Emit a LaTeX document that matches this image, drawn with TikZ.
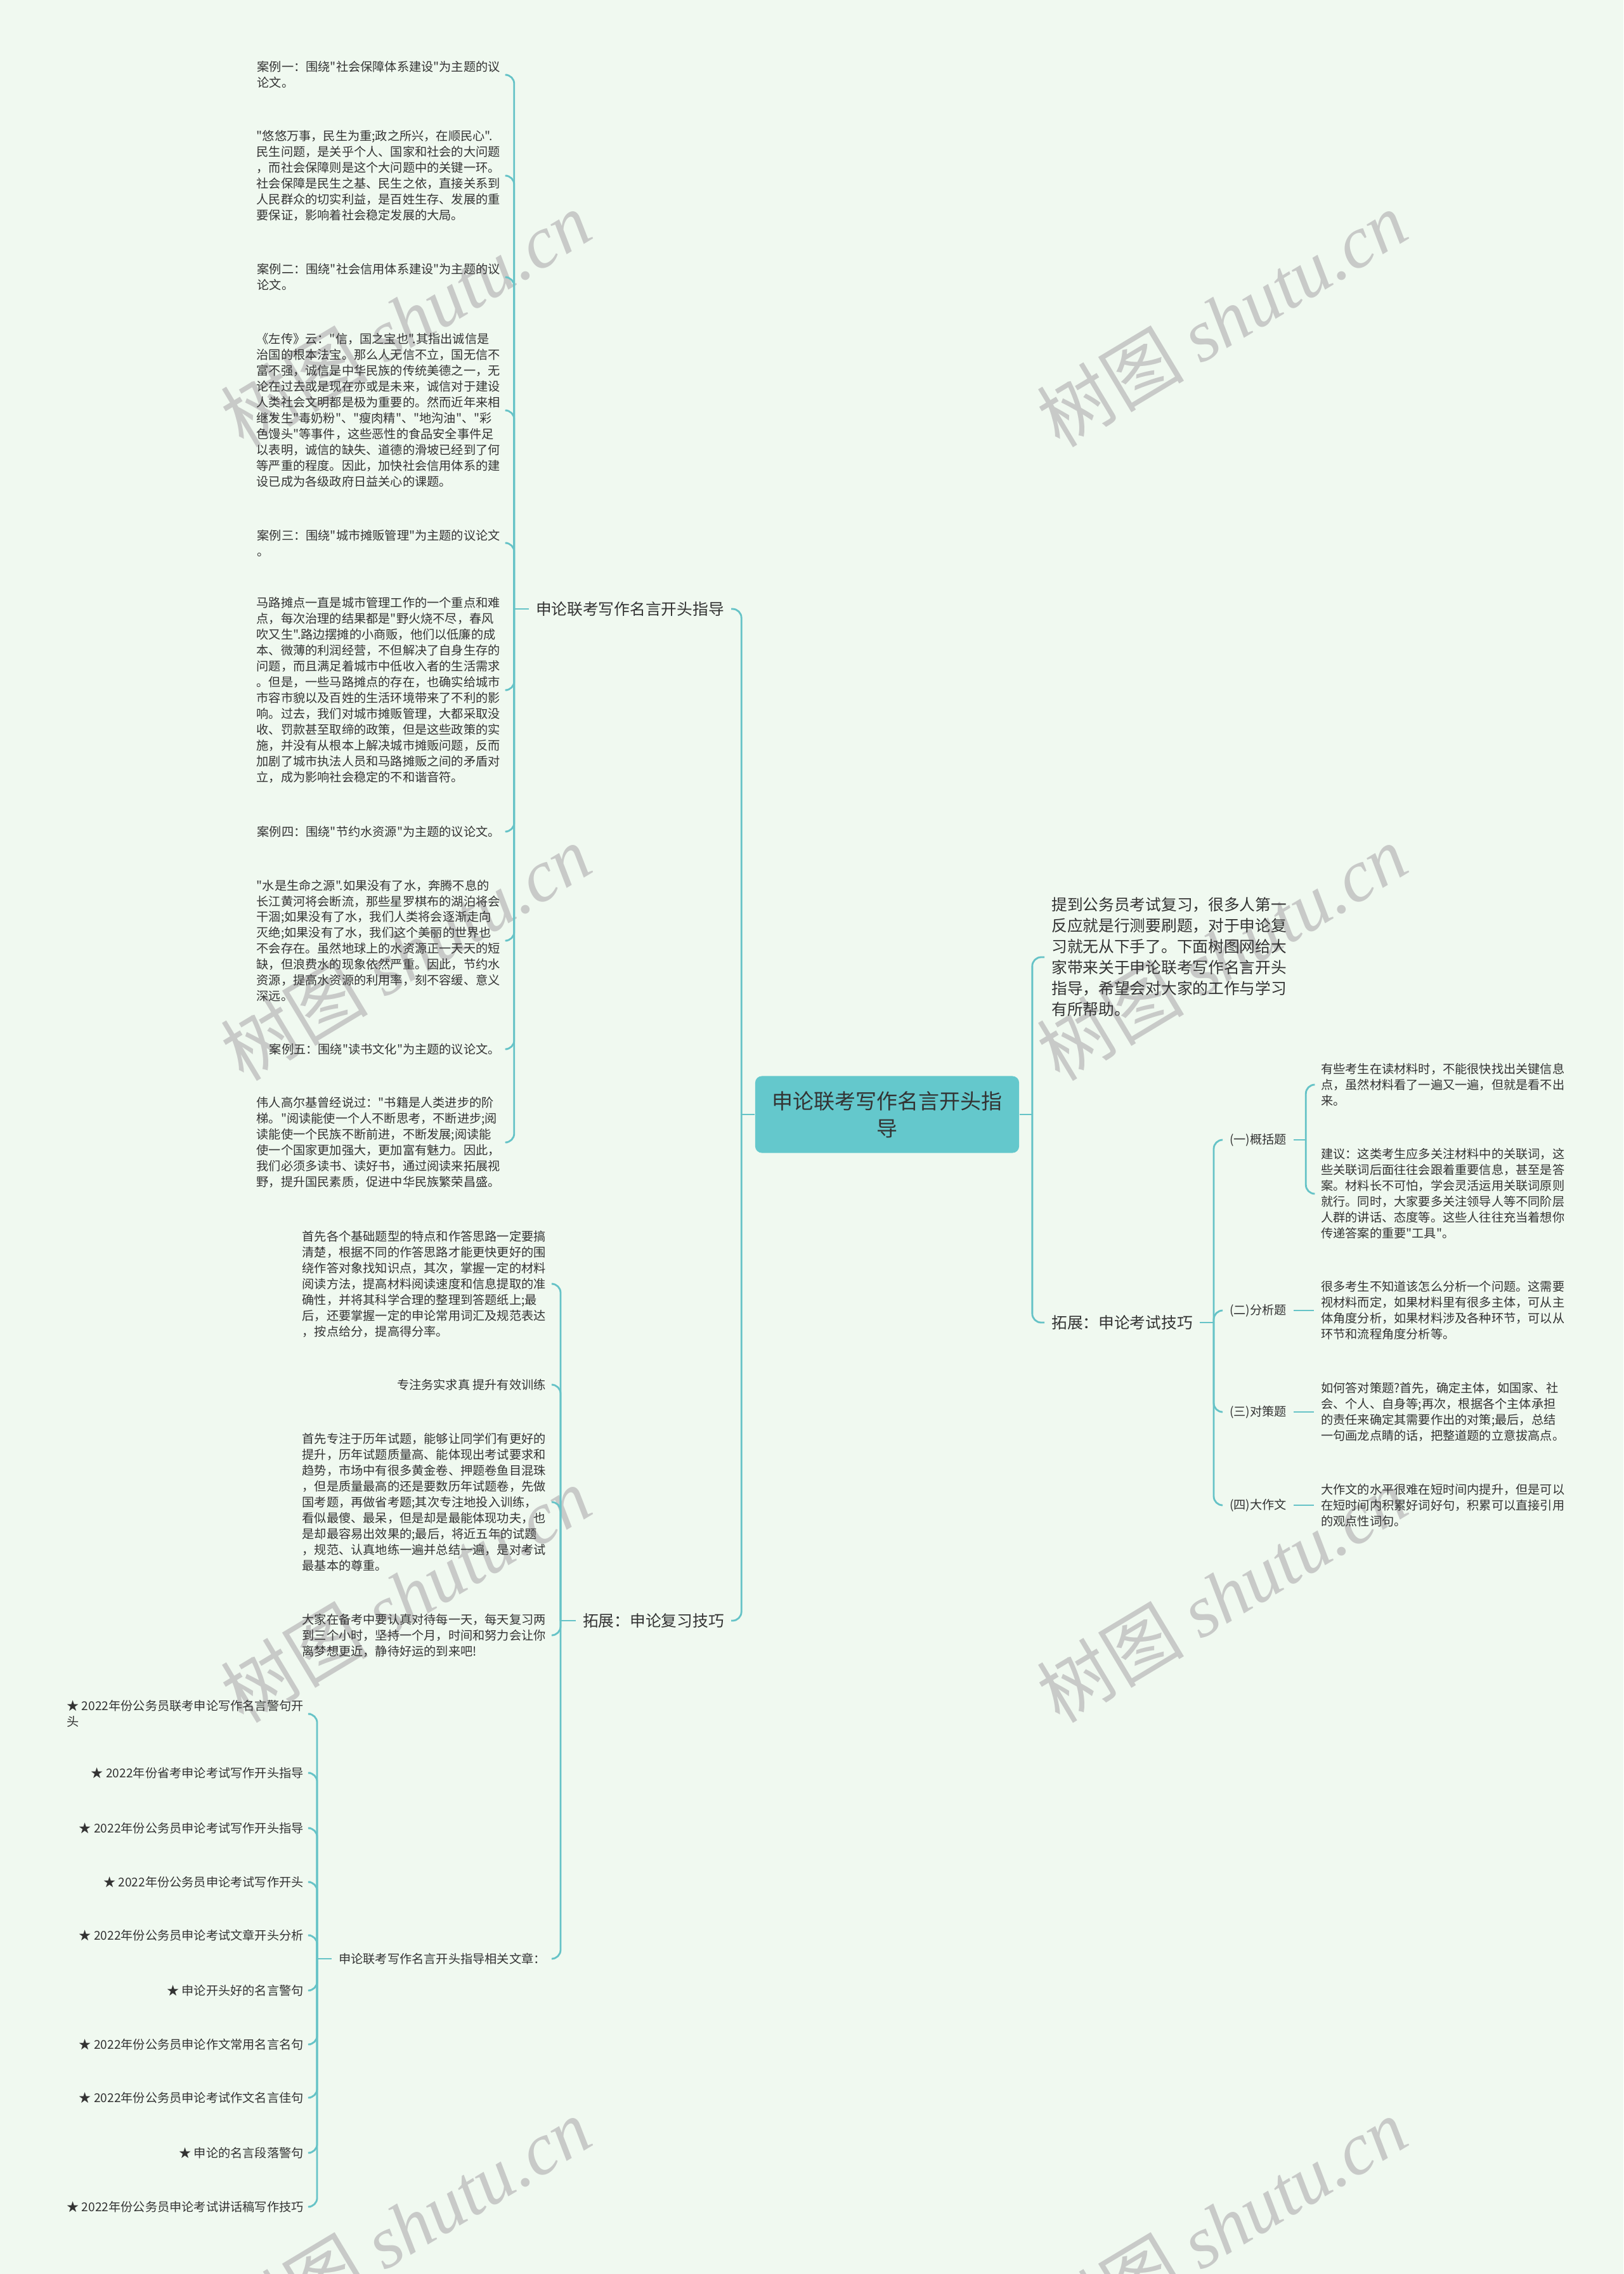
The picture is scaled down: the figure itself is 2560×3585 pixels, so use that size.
\documentclass[tikz,border=0pt]{standalone}
\usepackage{fontspec}
\setmainfont{Noto Sans CJK SC}[Ligatures=TeXOff]
\newfontfamily\wmserif{Liberation Serif}
\usetikzlibrary{positioning}
\definecolor{bgmint}{RGB}{240,249,240}
\definecolor{linkteal}{RGB}{102,195,199}
\definecolor{rootteal}{RGB}{100,200,204}
\definecolor{txtgray}{RGB}{51,51,51}
\definecolor{wmgray}{RGB}{200,202,200}

\begin{document}
\begin{tikzpicture}[x=0.01cm, y=-0.01cm]
  \tikzset{
    link/.style={draw=linkteal, line width=0.8pt, rounded corners=4pt},
    root/.style={fill=rootteal, rounded corners=3pt, text=txtgray, align=center, minimum width=4.16cm, minimum height=1.21cm, inner sep=0pt, font=\fontsize{9.39pt}{12.2pt}\selectfont},
    topic/.style={text=txtgray, align=left, inner xsep=3pt, inner ysep=0pt, font=\fontsize{7.03pt}{9.39pt}\selectfont},
    leaf/.style={text=txtgray, align=left, inner xsep=3pt, inner ysep=0pt, font=\fontsize{5.46pt}{7.1pt}\selectfont},
    wmark/.style={text=wmgray, rotate=31, font=\fontsize{33pt}{33pt}\selectfont},
  }
  \fill[bgmint] (0,0) rectangle (2560,3585);
  \useasboundingbox (0,0) rectangle (2560,3585);
  %% watermarks
  \foreach \wx/\wy in {640/503,1927/503,640/1502,1927/1502,640/2514,1927/2514,640/3509,1927/3509}
    \node[wmark] at (\wx,\wy) {树图 {\wmserif\itshape shutu.cn}};

  %% root and first level
  \node[root] (root) at (1399,1757) {申论联考写作名言开头指\\导};
  \node[topic, anchor=east] (guide) at (1153,960) {申论联考写作名言开头指导};
  \node[topic, anchor=east] (review) at (1153,2555) {拓展：申论复习技巧};
  \node[topic, anchor=west] (intro) at (1647,1509) {提到公务员考试复习，很多人第一\\反应就是行测要刷题，对于申论复\\习就无从下手了。下面树图网给大\\家带来关于申论联考写作名言开头\\指导，希望会对大家的工作与学习\\有所帮助。};
  \node[topic, anchor=west] (skill) at (1647,2085) {拓展：申论考试技巧};

  %% cases under guide
  \node[leaf, anchor=east] (caseA) at (800,118) {案例一：围绕"社会保障体系建设"为主题的议\\论文。};
  \node[leaf, anchor=east] (textA) at (800,277) {"悠悠万事，民生为重;政之所兴，在顺民心".\\民生问题，是关乎个人、国家和社会的大问题\\，而社会保障则是这个大问题中的关键一环。\\社会保障是民生之基、民生之依，直接关系到\\人民群众的切实利益，是百姓生存、发展的重\\要保证，影响着社会稳定发展的大局。};
  \node[leaf, anchor=east] (caseB) at (800,437) {案例二：围绕"社会信用体系建设"为主题的议\\论文。};
  \node[leaf, anchor=east] (textB) at (800,647) {《左传》云："信，国之宝也".其指出诚信是\\治国的根本法宝。那么人无信不立，国无信不\\富不强，诚信是中华民族的传统美德之一，无\\论在过去或是现在亦或是未来，诚信对于建设\\人类社会文明都是极为重要的。然而近年来相\\继发生"毒奶粉"、"瘦肉精"、"地沟油"、"彩\\色馒头"等事件，这些恶性的食品安全事件足\\以表明，诚信的缺失、道德的滑坡已经到了何\\等严重的程度。因此，加快社会信用体系的建\\设已成为各级政府日益关心的课题。};
  \node[leaf, anchor=east] (caseC) at (800,856) {案例三：围绕"城市摊贩管理"为主题的议论文\\。};
  \node[leaf, anchor=east] (textC) at (800,1088) {马路摊点一直是城市管理工作的一个重点和难\\点，每次治理的结果都是"野火烧不尽，春风\\吹又生".路边摆摊的小商贩，他们以低廉的成\\本、微薄的利润经营，不但解决了自身生存的\\问题，而且满足着城市中低收入者的生活需求\\。但是，一些马路摊点的存在，也确实给城市\\市容市貌以及百姓的生活环境带来了不利的影\\响。过去，我们对城市摊贩管理，大都采取没\\收、罚款甚至取缔的政策，但是这些政策的实\\施，并没有从根本上解决城市摊贩问题，反而\\加剧了城市执法人员和马路摊贩之间的矛盾对\\立，成为影响社会稳定的不和谐音符。};
  \node[leaf, anchor=east] (caseD) at (800,1311) {案例四：围绕"节约水资源"为主题的议论文。};
  \node[leaf, anchor=east] (textD) at (800,1483) {"水是生命之源".如果没有了水，奔腾不息的\\长江黄河将会断流，那些星罗棋布的湖泊将会\\干涸;如果没有了水，我们人类将会逐渐走向\\灭绝;如果没有了水，我们这个美丽的世界也\\不会存在。虽然地球上的水资源正一天天的短\\缺，但浪费水的现象依然严重。因此，节约水\\资源，提高水资源的利用率，刻不容缓、意义\\深远。};
  \node[leaf, anchor=east] (caseE) at (800,1654) {案例五：围绕"读书文化"为主题的议论文。};
  \node[leaf, anchor=east] (textE) at (800,1801) {伟人高尔基曾经说过："书籍是人类进步的阶\\梯。"阅读能使一个人不断思考，不断进步;阅\\读能使一个民族不断前进，不断发展;阅读能\\使一个国家更加强大，更加富有魅力。因此，\\我们必须多读书、读好书，通过阅读来拓展视\\野，提升国民素质，促进中华民族繁荣昌盛。};

  %% review tips
  \node[leaf, anchor=east] (basic) at (872,2024) {首先各个基础题型的特点和作答思路一定要搞\\清楚，根据不同的作答思路才能更快更好的围\\绕作答对象找知识点，其次，掌握一定的材料\\阅读方法，提高材料阅读速度和信息提取的准\\确性，并将其科学合理的整理到答题纸上;最\\后，还要掌握一定的申论常用词汇及规范表达\\，按点给分，提高得分率。};
  \node[leaf, anchor=east] (focus) at (872,2183) {专注务实求真 提升有效训练};
  \node[leaf, anchor=east] (pastp) at (872,2368) {首先专注于历年试题，能够让同学们有更好的\\提升，历年试题质量高、能体现出考试要求和\\趋势，市场中有很多黄金卷、押题卷鱼目混珠\\，但是质量最高的还是要数历年试题卷，先做\\国考题，再做省考题;其次专注地投入训练，\\看似最傻、最呆，但是却是最能体现功夫，也\\是却最容易出效果的;最后，将近五年的试题\\，规范、认真地练一遍并总结一遍，是对考试\\最基本的尊重。};
  \node[leaf, anchor=east] (daily) at (872,2578) {大家在备考中要认真对待每一天，每天复习两\\到三个小时，坚持一个月，时间和努力会让你\\离梦想更近，静待好运的到来吧!};
  \node[leaf, anchor=east] (related) at (872,3088) {申论联考写作名言开头指导相关文章：};

  %% related articles
  \node[leaf, anchor=east] (art1) at (490,2702) {★ 2022年份公务员联考申论写作名言警句开\\头};
  \node[leaf, anchor=east] (art2) at (490,2795) {★ 2022年份省考申论考试写作开头指导};
  \node[leaf, anchor=east] (art3) at (490,2882) {★ 2022年份公务员申论考试写作开头指导};
  \node[leaf, anchor=east] (art4) at (490,2967) {★ 2022年份公务员申论考试写作开头};
  \node[leaf, anchor=east] (art5) at (490,3051) {★ 2022年份公务员申论考试文章开头分析};
  \node[leaf, anchor=east] (art6) at (490,3138) {★ 申论开头好的名言警句};
  \node[leaf, anchor=east] (art7) at (490,3223) {★ 2022年份公务员申论作文常用名言名句};
  \node[leaf, anchor=east] (art8) at (490,3307) {★ 2022年份公务员申论考试作文名言佳句};
  \node[leaf, anchor=east] (art9) at (490,3394) {★ 申论的名言段落警句};
  \node[leaf, anchor=east] (art10) at (490,3479) {★ 2022年份公务员申论考试讲话稿写作技巧};

  %% exam question types
  \node[leaf, anchor=west] (sumq) at (1928,1797) {(一)概括题};
  \node[leaf, anchor=west] (anaq) at (1928,2066) {(二)分析题};
  \node[leaf, anchor=west] (solq) at (1928,2226) {(三)对策题};
  \node[leaf, anchor=west] (essq) at (1928,2373) {(四)大作文};
  \node[leaf, anchor=west] (sumA) at (2072,1710) {有些考生在读材料时，不能很快找出关键信息\\点，虽然材料看了一遍又一遍，但就是看不出\\来。};
  \node[leaf, anchor=west] (sumB) at (2072,1882) {建议：这类考生应多关注材料中的关联词，这\\些关联词后面往往会跟着重要信息，甚至是答\\案。材料长不可怕，学会灵活运用关联词原则\\就行。同时，大家要多关注领导人等不同阶层\\人群的讲话、态度等。这些人往往充当着想你\\传递答案的重要"工具"。};
  \node[leaf, anchor=west] (anaA) at (2072,2066) {很多考生不知道该怎么分析一个问题。这需要\\视材料而定，如果材料里有很多主体，可从主\\体角度分析，如果材料涉及各种环节，可以从\\环节和流程角度分析等。};
  \node[leaf, anchor=west] (solA) at (2072,2226) {如何答对策题?首先，确定主体，如国家、社\\会、个人、自身等;再次，根据各个主体承担\\的责任来确定其需要作出的对策;最后，总结\\一句画龙点睛的话，把整道题的立意拔高点。};
  \node[leaf, anchor=west] (essA) at (2072,2373) {大作文的水平很难在短时间内提升，但是可以\\在短时间内积累好词好句，积累可以直接引用\\的观点性词句。};

  %% connectors
  \path (root.west) ++(-21,0) coordinate (jRootL);
  \path (root.east) ++(20,0) coordinate (jRootR);
  \path (guide.west) ++(-23,0) coordinate (jGuide);
  \path (review.west) ++(-24,0) coordinate (jReview);
  \path (related.west) ++(-23,0) coordinate (jRelated);
  \path (skill.east) ++(22,0) coordinate (jSkill);
  \path (sumq.east) ++(19,0) coordinate (jSum);
  \draw[link] (root.west) -- (jRootL);
  \foreach \c in {guide,review} \draw[link] (jRootL) |- (\c.east);
  \draw[link] (root.east) -- (jRootR);
  \foreach \c in {intro,skill} \draw[link] (jRootR) |- (\c.west);
  \draw[link] (guide.west) -- (jGuide);
  \foreach \c in {caseA,textA,caseB,textB,caseC,textC,caseD,textD,caseE,textE} \draw[link] (jGuide) |- (\c.east);
  \draw[link] (review.west) -- (jReview);
  \foreach \c in {basic,focus,pastp,daily,related} \draw[link] (jReview) |- (\c.east);
  \draw[link] (related.west) -- (jRelated);
  \foreach \c in {art1,art2,art3,art4,art5,art6,art7,art8,art9,art10} \draw[link] (jRelated) |- (\c.east);
  \draw[link] (skill.east) -- (jSkill);
  \foreach \c in {sumq,anaq,solq,essq} \draw[link] (jSkill) |- (\c.west);
  \draw[link] (sumq.east) -- (jSum);
  \foreach \c in {sumA,sumB} \draw[link] (jSum) |- (\c.west);
  \draw[link] (anaq.east) -- (anaA.west);
  \draw[link] (solq.east) -- (solA.west);
  \draw[link] (essq.east) -- (essA.west);
\end{tikzpicture}
\end{document}
